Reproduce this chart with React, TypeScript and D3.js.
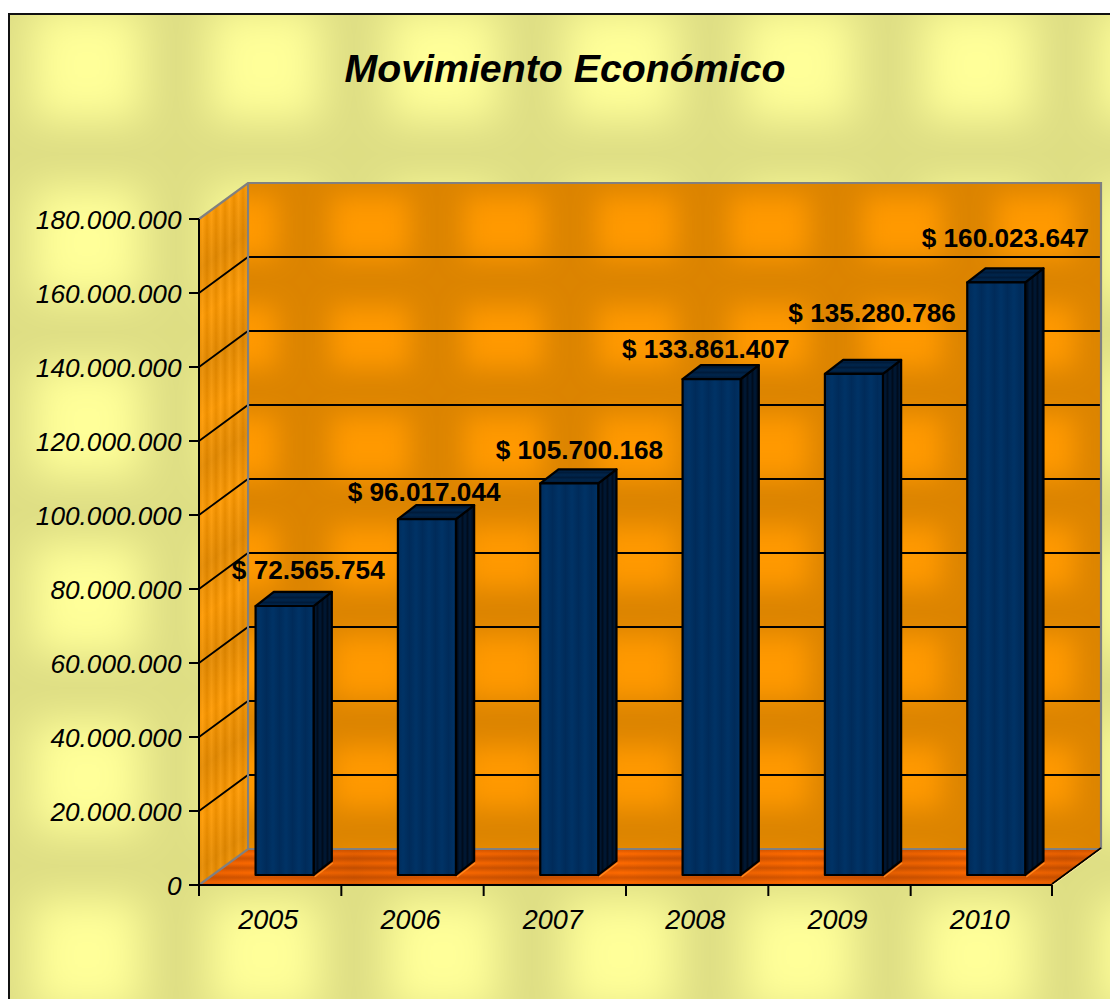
import React from "react";
import * as d3 from "d3";

// ---- data ----
const years = ["2005", "2006", "2007", "2008", "2009", "2010"];
const values = [72565754, 96017044, 105700168, 133861407, 135280786, 160023647];
const valueTicks = [0, 20e6, 40e6, 60e6, 80e6, 100e6, 120e6, 140e6, 160e6, 180e6];
const title = "Movimiento Económico";

// ---- layout ----
const W = 1110, H = 999;
const frontLeft = 199, frontRight = 1053, frontBottom = 885, frontTop = 219;
const depthX = 49, depthY = 36;
const barWidth = 58;
const barNear = 10 / 36, barFar = 23 / 36;
const labelDx = [24.5, -2, 11, -5, 19, 10];
const labelDy = [-28, -19, -25, -22, -52, -36];

const thousands = d3.formatLocale({ decimal: ",", thousands: ".", grouping: [3], currency: ["$ ", ""] });
const fmtTick = thousands.format(",d");
const fmtVal = (v: number) => "$ " + fmtTick(v);

const xBand = d3.scaleBand<string>().domain(years).range([frontLeft, frontRight]);
const yFront = d3.scaleLinear().domain([0, 180e6]).range([frontBottom, frontTop]);
const pts = (a: number[][]) => a.map((p) => p.join(",")).join(" ");

const FONT = "'Liberation Sans', Arial, sans-serif";

function Stripes({ id, w, h, horizontal, a, b, transform }: any) {
  return (
    <pattern id={id} width={w} height={h} patternUnits="userSpaceOnUse" patternTransform={transform}>
      <rect width={w} height={h} fill={`url(#${id}-g)`} />
      <linearGradient id={`${id}-g`} x1="0" y1="0" x2={horizontal ? 0 : 1} y2={horizontal ? 1 : 0}>
        <stop offset="0" stopColor={a} />
        <stop offset="0.5" stopColor={b} />
        <stop offset="1" stopColor={a} />
      </linearGradient>
    </pattern>
  );
}

export default function App() {
  const bandW = xBand.bandwidth();
  const wallL = frontLeft + depthX, wallR = frontRight - 1 + depthX;
  const wallT = frontTop - depthY, wallB = frontBottom - depthY;
  const sidePoly = [[frontLeft, frontTop], [wallL, wallT], [wallL, wallB], [frontLeft, frontBottom]];
  const floorPoly = [[frontLeft, frontBottom], [wallL, wallB], [wallR, wallB], [frontRight - 1, frontBottom]];

  return (
    <svg width={W} height={H} viewBox={`0 0 ${W} ${H}`}
      style={{ position: "absolute", left: 0, top: 0, display: "block", fontFamily: FONT }}>
      <defs>
        <filter id="b1" x="-50%" y="-50%" width="200%" height="200%"><feGaussianBlur stdDeviation="21" /></filter>
        <filter id="b2" x="-50%" y="-50%" width="200%" height="200%"><feGaussianBlur stdDeviation="13" /></filter>
        <pattern id="yellowTile" x="-2" y="-24" width="178" height="178" patternUnits="userSpaceOnUse">
          <rect width="178" height="178" fill="#DEDE84" />
          <rect x="34" y="34" width="110" height="110" fill="#FFFF99" filter="url(#b1)" />
        </pattern>
        <pattern id="orangeTile" x="304" y="172" width="133" height="110" patternUnits="userSpaceOnUse">
          <rect width="133" height="110" fill="#DC8400" />
          <rect x="27" y="24" width="79" height="62" fill="#FF9900" filter="url(#b2)" />
        </pattern>
        <Stripes id="sideStripes" w={9} h={9} a="#EE8F00" b="#FFA010" />
        <pattern id="sideShade" width="49" height="100" y="219" patternUnits="userSpaceOnUse" patternTransform="translate(199 0) skewY(-36.3)">
          <rect width="49" height="100" fill="url(#sideShadeG)" />
        </pattern>
        <linearGradient id="sideShadeG" x1="0" y1="0" x2="0" y2="1">
          <stop offset="0" stopColor="#000" stopOpacity="0" />
          <stop offset="0.5" stopColor="#000" stopOpacity="0.09" />
          <stop offset="1" stopColor="#000" stopOpacity="0" />
        </linearGradient>
        <Stripes id="floorStripes" w={9} h={9.5} horizontal a="#D25400" b="#FF6A00" transform="translate(0 849)" />
        <pattern id="floorShade" width="178" height="36" x="176" patternUnits="userSpaceOnUse">
          <rect width="178" height="36" fill="url(#floorShadeG)" />
        </pattern>
        <linearGradient id="floorShadeG" x1="0" y1="0" x2="1" y2="0">
          <stop offset="0" stopColor="#7a3000" stopOpacity="0.18" />
          <stop offset="0.5" stopColor="#7a3000" stopOpacity="0" />
          <stop offset="1" stopColor="#7a3000" stopOpacity="0.18" />
        </linearGradient>
        <Stripes id="barFront" w={13} h={13} a="#003366" b="#002B5A" />
        <Stripes id="barSide" w={5} h={5} a="#001A38" b="#000C1C" />
        <Stripes id="barTop" w={9} h={5} horizontal a="#00264D" b="#001B3A" />
      </defs>

      {/* chart area with textured background */}
      <rect x="9" y="14" width={W + 20} height={H + 20} fill="url(#yellowTile)" stroke="#111" strokeWidth="2" />

      {/* title */}
      <text x="565" y="82" textAnchor="middle" fontSize="39.3" fontWeight="bold" fontStyle="italic" fill="#000">{title}</text>

      {/* walls */}
      <rect x={wallL} y={wallT} width={wallR - wallL} height={wallB - wallT} fill="url(#orangeTile)" />
      <polygon points={pts(sidePoly)} fill="url(#sideStripes)" />
      <polygon points={pts(sidePoly)} fill="url(#sideShade)" />
      <polygon points={pts(floorPoly)} fill="url(#floorStripes)" />
      <polygon points={pts(floorPoly)} fill="url(#floorShade)" />

      {/* gridlines */}
      {valueTicks.slice(1, -1).map((t) => (
        <polyline key={t} fill="none" stroke="#000" strokeWidth="1.8"
          points={pts([[frontLeft, yFront(t)], [wallL, yFront(t) - depthY], [wallR, yFront(t) - depthY]])} />
      ))}

      {/* wall edges */}
      <polyline fill="none" stroke="#808080" strokeWidth="2.2"
        points={pts([[frontLeft, frontTop], [wallL, wallT], [wallR, wallT], [wallR, wallB]])} />
      <line x1={wallL} y1={wallT} x2={wallL} y2={wallB} stroke="#808080" strokeWidth="2.2" />
      <polyline fill="none" stroke="#808080" strokeWidth="2.2"
        points={pts([[frontLeft, frontBottom], [wallL, wallB], [wallR, wallB]])} />
      <line x1={frontRight - 1} y1={frontBottom - 1} x2={wallR} y2={wallB - 1} stroke="#000" strokeWidth="1.8" />
      <line x1={frontRight - 1} y1={frontBottom + 0.8} x2={wallR} y2={wallB + 0.8} stroke="#F5E8A0" strokeWidth="1" />

      {/* bars */}
      {years.map((yr, i) => {
        const x0 = xBand(yr)! + (bandW - barWidth) / 2 + depthX * barNear + 0.8;
        const x1 = x0 + barWidth;
        const yb = yFront(0) - depthY * barNear;
        const yt = yFront(values[i]) - depthY * barNear - 0.5;
        const dx = depthX * (barFar - barNear) * 1.03;
        const dy = depthY * (barFar - barNear) * 1.08;
        return (
          <g key={yr} stroke="#000" strokeWidth="2.2" strokeLinejoin="round">
            <polyline fill="none" stroke="#FF8A20" strokeWidth="1.2"
              points={pts([[x1 + 1, yb + 2], [x1 + dx + 1, yb - dy + 2]])} />
            <polygon fill="url(#barSide)" points={pts([[x1, yt], [x1 + dx, yt - dy], [x1 + dx, yb - dy], [x1, yb]])} />
            <polygon fill="url(#barTop)" points={pts([[x0, yt], [x0 + dx, yt - dy], [x1 + dx, yt - dy], [x1, yt]])} />
            <rect x={x0} y={yt} width={barWidth} height={yb - yt} fill="url(#barFront)" />
          </g>
        );
      })}

      {/* value labels */}
      {years.map((yr, i) => {
        const cx = xBand(yr)! + bandW / 2 + depthX * barNear;
        const yt = yFront(values[i]) - depthY * barNear;
        return (
          <text key={yr} x={cx + labelDx[i]} y={yt + labelDy[i]} textAnchor="middle"
            fontSize="26.2" fontWeight="bold" fill="#000">{fmtVal(values[i])}</text>
        );
      })}

      {/* y axis */}
      <line x1={frontLeft} y1={frontTop} x2={frontLeft} y2={frontBottom} stroke="#000" strokeWidth="2" />
      {valueTicks.map((t) => (
        <g key={t}>
          <line x1={frontLeft - 10} x2={frontLeft} y1={yFront(t)} y2={yFront(t)} stroke="#000" strokeWidth="2" />
          <text x={frontLeft - 17.5} y={yFront(t) + 9.5} textAnchor="end" fontSize="26.2" fontStyle="italic" fill="#000">{fmtTick(t)}</text>
        </g>
      ))}

      {/* x axis */}
      <line x1={frontLeft} y1={frontBottom} x2={frontRight - 1} y2={frontBottom} stroke="#000" strokeWidth="2" />
      {[...years.map((y) => xBand(y)!), frontRight - 1].map((x, i) => (
        <line key={i} x1={x} x2={x} y1={frontBottom} y2={frontBottom + 11} stroke="#000" strokeWidth="2" />
      ))}
      {years.map((yr) => (
        <text key={yr} x={xBand(yr)! + bandW / 2 - 2} y={929} textAnchor="middle" fontSize="27" fontStyle="italic" fill="#000">{yr}</text>
      ))}
    </svg>
  );
}
